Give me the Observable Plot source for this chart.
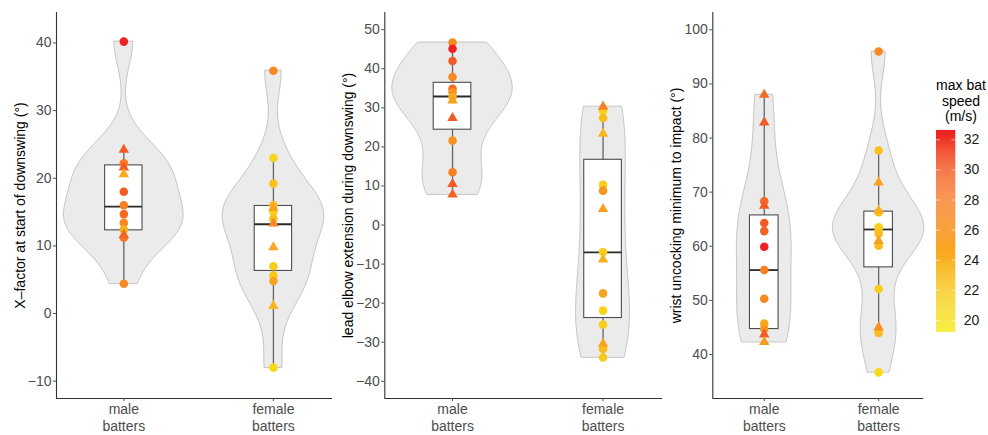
<!DOCTYPE html>
<html><head><meta charset="utf-8">
<script src="https://cdn.jsdelivr.net/npm/d3@7"></script>
<script src="https://cdn.jsdelivr.net/npm/@observablehq/plot@0.6"></script>
<style>
body{margin:0;background:#fff;font-family:"Liberation Sans",Arial,sans-serif;}
#wrap{position:relative;width:988px;height:435px;overflow:hidden;background:#fff}
.pane{position:absolute;top:0}
#legtitle{position:absolute;left:911px;width:100px;top:78px;text-align:center;font-size:14px;line-height:15.5px;color:#000}
</style></head><body><div id="wrap"></div>
<script>
// ---------- data ----------
const groupLabels = ["male\nbatters", "female\nbatters"];
const speedDomain = [19.22, 32.62];
const speedColors = ["#f5ea12", "#ed1c24"];
const legendTicks = [20, 22, 24, 26, 28, 30, 32];
const legendTitle = ["max bat", "speed", "(m/s)"];

// Panel 1: X-factor
const xfTitle = "X–factor at start of downswing (°)";
const xfTicks = [-10, 0, 10, 20, 30, 40];
const xfDomain = [-12.56, 44.5];
const xfMaleValue = [40.2, 24.2, 22.2, 21.6, 20.6, 18.0, 16.0, 14.7, 13.4, 12.4, 11.6, 11.2, 4.4];
const xfMaleSpeed = [32.5, 30, 28, 30, 24.5, 30, 27.5, 29, 27, 24, 29.5, 28, 27];
const xfMaleShape = ["c","t","c","t","t","c","c","c","c","c","t","c","c"];
const xfMaleBox = [4.4, 12.3, 15.8, 21.9, 24.2];
const xfFemaleValue = [35.9, 23.0, 19.2, 16.0, 15.6, 15.0, 14.0, 13.3, 9.8, 7.0, 5.6, 4.8, 1.1, -8.0];
const xfFemaleSpeed = [27, 21, 22.5, 23, 25, 21.5, 23, 27, 24.5, 21.5, 22, 25, 23.5, 20.5];
const xfFemaleShape = ["c","c","c","c","t","c","c","t","t","c","c","c","t","c"];
const xfFemaleBox = [-8.0, 6.3, 13.2, 15.9, 23.0];

// Panel 2: lead elbow extension
const elTitle = "lead elbow extension during downswing (°)";
const elTicks = [-40, -30, -20, -10, 0, 10, 20, 30, 40, 50];
const elDomain = [-44.4, 54.4];
const elMaleValue = [46.7, 45.1, 42.0, 37.9, 34.9, 34.0, 32.7, 31.9, 27.4, 21.6, 13.5, 10.5, 7.8];
const elMaleSpeed = [27, 32.5, 30, 27, 29, 26, 24, 25, 30, 26, 27.5, 30, 29.5];
const elMaleShape = ["c","c","c","c","c","c","c","t","t","c","c","t","t"];
const elMaleBox = [7.8, 24.4, 32.9, 36.4, 46.7];
const elFemaleValue = [30.3, 29.2, 27.4, 23.4, 10.3, 8.8, 4.1, -6.9, -8.8, -17.5, -21.9, -25.5, -30.4, -31.7, -33.9];
const elFemaleSpeed = [27.5, 21, 23, 23.5, 21.5, 26, 25, 21.5, 24, 25, 21, 21.5, 25, 23, 22];
const elFemaleShape = ["t","c","c","t","c","c","t","c","t","c","c","c","t","c","c"];
const elFemaleBox = [-33.9, -23.8, -7.0, 16.7, 29.9];

// Panel 3: wrist uncocking
const wrTitle = "wrist uncocking minimum to impact (°)";
const wrTicks = [40, 50, 60, 70, 80, 90, 100];
const wrDomain = [31.87, 103.2];
const wrMaleValue = [88.0, 82.9, 68.3, 67.5, 64.3, 62.8, 59.9, 55.6, 50.3, 45.7, 44.7, 43.7, 42.3];
const wrMaleSpeed = [29, 30, 29, 30, 30, 29.5, 32.5, 27.5, 27, 24.5, 26, 30, 25.5];
const wrMaleShape = ["t","t","c","t","c","c","c","c","c","c","c","t","t"];
const wrMaleBox = [42.3, 44.7, 55.6, 65.7, 88.0];
const wrFemaleValue = [96.0, 77.7, 71.8, 66.6, 66.3, 63.5, 62.9, 62.3, 61.0, 60.1, 52.1, 45.0, 44.0, 36.7];
const wrFemaleSpeed = [27, 22.5, 25, 24, 23, 21.5, 21.5, 23, 25, 23, 21.5, 26.5, 23, 20.5];
const wrFemaleShape = ["c","c","t","t","c","c","c","c","t","c","c","t","c","c"];
const wrFemaleBox = [44.0, 56.1, 63.1, 66.4, 77.7];

// ---------- drawing ----------
const FONT = "Liberation Sans, Arial, sans-serif";
const xDomain = [0.55, 2.395];
const colorOpts = {type: "linear", domain: speedDomain, range: speedColors, interpolate: "lab"};

function kde(values) {
  const n = values.length;
  const sorted = values.slice().sort(d3.ascending);
  const sd = d3.deviation(sorted);
  const iqr = d3.quantileSorted(sorted, 0.75) - d3.quantileSorted(sorted, 0.25);
  const bw = 0.9 * Math.min(sd, iqr / 1.34) * Math.pow(n, -0.2);
  const [lo, hi] = d3.extent(sorted);
  const N = 160;
  return d3.range(N + 1).map(i => {
    const y = lo + (hi - lo) * i / N;
    const d = d3.sum(sorted, v => Math.exp(-0.5 * ((y - v) / bw) ** 2)) / (n * bw * Math.sqrt(2 * Math.PI));
    return {y, d};
  });
}

function panel({title, ticks, yDomain, groups, width, marginLeft}) {
  const dens = groups.map(g => kde(g.value));
  const maxD = d3.max(dens.flat(), p => p.d);
  const vdata = dens.flatMap((arr, i) => arr.map(p => ({g: i, y: p.y, x1: i + 1 - 0.4 * p.d / maxD, x2: i + 1 + 0.4 * p.d / maxD})));
  const pts = groups.flatMap((g, i) => g.value.map((v, j) => ({x: i + 1, y: v, s: g.speed[j], shape: g.shape[j]})));
  const boxes = groups.map((g, i) => ({x: i + 1, lo: g.box[0], q1: g.box[1], med: g.box[2], q3: g.box[3], hi: g.box[4]}));
  const bw = 0.125;
  return Plot.plot({
    width, height: 435,
    marginTop: 12, marginBottom: 37, marginLeft, marginRight: 0,
    style: {fontFamily: FONT, fontSize: "14px", background: "transparent", overflow: "visible"},
    x: {type: "linear", domain: xDomain, axis: null},
    y: {domain: yDomain, axis: null},
    color: colorOpts,
    marks: [
      Plot.areaX(vdata, {y: "y", x1: "x1", x2: "x2", z: "g", fill: "#ebebeb", stroke: "#b8b8b8", strokeWidth: 0.8}),
      Plot.ruleX(boxes, {x: "x", y1: "lo", y2: "hi", stroke: "#666", strokeWidth: 1.3}),
      Plot.rect(boxes, {x1: d => d.x - bw, x2: d => d.x + bw, y1: "q1", y2: "q3", fill: "white", stroke: "#4d4d4d", strokeWidth: 1.1}),
      Plot.ruleY(boxes, {y: "med", x1: d => d.x - bw, x2: d => d.x + bw, stroke: "#2b2b2b", strokeWidth: 1.8}),
      Plot.dot(pts.filter(d => d.shape === "c"), {x: "x", y: "y", fill: "s", r: 4.3, symbol: "circle"}),
      Plot.dot(pts.filter(d => d.shape === "t"), {x: "x", y: "y", fill: "s", r: 3.9, symbol: "triangle"}),
      Plot.ruleX([xDomain[0]], {stroke: "#333", strokeWidth: 1.1}),
      Plot.ruleY([yDomain[0]], {stroke: "#333", strokeWidth: 1.1}),
      Plot.axisY({ticks, tickSize: 3, tickPadding: 2, fontSize: 14, color: "#4d4d4d",
        tickFormat: d => d < 0 ? "\u2212" + (-d) : String(d), label: null}),
      Plot.axisX({ticks: [1, 2], tickSize: 3, tickPadding: 1, fontSize: 14, lineHeight: 1.2, color: "#4d4d4d",
        tickFormat: d => groupLabels[d - 1], label: null}),
      Plot.text([title], {frameAnchor: "left", textAnchor: "middle", lineAnchor: "middle", dx: -36, rotate: -90, fontSize: 14, fill: "#000"})
    ]
  });
}

const wrap = document.getElementById("wrap");
function place(node, left, top) {
  const div = document.createElement("div");
  div.className = "pane";
  div.style.left = left + "px";
  div.style.top = top + "px";
  div.appendChild(node);
  wrap.appendChild(div);
}

place(panel({title: xfTitle, ticks: xfTicks, yDomain: xfDomain, width: 332, marginLeft: 56, groups: [
  {value: xfMaleValue, speed: xfMaleSpeed, shape: xfMaleShape, box: xfMaleBox},
  {value: xfFemaleValue, speed: xfFemaleSpeed, shape: xfFemaleShape, box: xfFemaleBox}]}), 0, 0);

place(panel({title: elTitle, ticks: elTicks, yDomain: elDomain, width: 330, marginLeft: 52.3, groups: [
  {value: elMaleValue, speed: elMaleSpeed, shape: elMaleShape, box: elMaleBox},
  {value: elFemaleValue, speed: elFemaleSpeed, shape: elFemaleShape, box: elFemaleBox}]}), 332, 0);

place(panel({title: wrTitle, ticks: wrTicks, yDomain: wrDomain, width: 261.3, marginLeft: 50.3, groups: [
  {value: wrMaleValue, speed: wrMaleSpeed, shape: wrMaleShape, box: wrMaleBox},
  {value: wrFemaleValue, speed: wrFemaleSpeed, shape: wrFemaleShape, box: wrFemaleBox}]}), 662, 0);

// legend
const nSlices = 200;
const sStep = (speedDomain[1] - speedDomain[0]) / nSlices;
const slices = d3.range(nSlices).map(i => speedDomain[0] + i * sStep);
const legend = Plot.plot({
  width: 52, height: 225, marginTop: 10, marginBottom: 13.3, marginLeft: 0, marginRight: 32.7,
  style: {fontFamily: FONT, fontSize: "14px", background: "transparent", overflow: "visible"},
  x: {domain: [0, 1], axis: null},
  y: {domain: speedDomain, axis: null},
  color: colorOpts,
  marks: [
    Plot.rect(slices, {x1: 0, x2: 1, y1: d => d, y2: d => d + sStep * 1.05, fill: d => d + sStep / 2}),
    Plot.ruleY(legendTicks, {x1: 0, x2: 0.2, stroke: "white", strokeOpacity: 0.6}),
    Plot.ruleY(legendTicks, {x1: 0.8, x2: 1, stroke: "white", strokeOpacity: 0.6}),
    Plot.axisY({anchor: "right", ticks: legendTicks, tickSize: 0, tickPadding: 8, fontSize: 14, color: "#1a1a1a", label: null})
  ]
});
place(legend, 936, 120);

const lt = document.createElement("div");
lt.id = "legtitle";
lt.innerHTML = legendTitle.join("<br>");
wrap.appendChild(lt);
</script></body></html>
